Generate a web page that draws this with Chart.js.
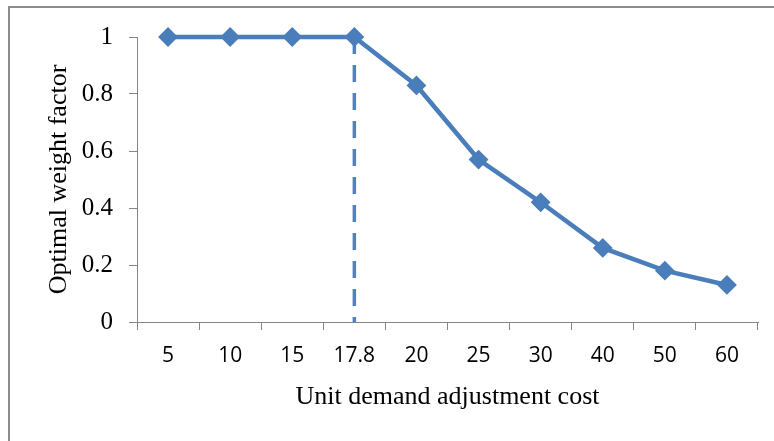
<!DOCTYPE html>
<html>
<head>
<meta charset="utf-8">
<script src="https://cdn.jsdelivr.net/npm/chart.js@4/dist/chart.umd.min.js"></script>
<style>
  html, body { margin: 0; padding: 0; background: #ffffff; }
  #wrap { position: relative; width: 774px; height: 441px; overflow: hidden; }
  #frame {
    position: absolute; left: 8px; top: 6px; width: 780px; height: 450px;
    border-left: 2px solid #8c8c8c; border-top: 2px solid #8c8c8c;
    pointer-events: none;
  }
  canvas { display: block; }
</style>
</head>
<body>
<div id="wrap">
  <canvas id="chart" width="774" height="441"></canvas>
  <div id="frame"></div>
</div>
<script>
// Unit demand adjustment cost categories and the optimal weight factor at each
const categories = ['5', '10', '15', '17.8', '20', '25', '30', '40', '50', '60'];
const weightFactor = [1, 1, 1, 1, 0.83, 0.57, 0.42, 0.26, 0.18, 0.13];
// Cost at which the weight factor starts to fall below 1
const thresholdCost = '17.8';
const yMin = 0;
const yMax = 1;
const yStep = 0.2;

const thresholdValue = weightFactor[categories.indexOf(thresholdCost)];
const thresholdLine = [
  { x: thresholdCost, y: thresholdValue },
  { x: thresholdCost, y: yMin }
];

const blue = '#4a7ebb';
const axisGray = '#868686';
const serif = "'Liberation Serif', 'Times New Roman', serif";
const sans = "'Open Sans', 'Liberation Sans', sans-serif";

new Chart(document.getElementById('chart'), {
  type: 'line',
  data: {
    labels: categories,
    datasets: [
      {
        label: 'Optimal weight factor',
        data: weightFactor,
        clip: false,
        borderColor: blue,
        backgroundColor: blue,
        borderWidth: 4.5,
        pointStyle: 'rectRot',
        pointRadius: 8.5,
        pointBorderWidth: 2,
        pointBackgroundColor: blue,
        pointBorderColor: blue,
        tension: 0,
        fill: false
      },
      {
        label: 'Threshold',
        data: thresholdLine,
        borderColor: '#4f82c0',
        borderWidth: 3.5,
        borderDash: [17, 11],
        pointRadius: 0,
        fill: false
      }
    ]
  },
  options: {
    responsive: false,
    animation: false,
    devicePixelRatio: 1,
    layout: { padding: { top: 37, right: 16, bottom: 0, left: 0 } },
    plugins: {
      legend: { display: false },
      tooltip: { enabled: false }
    },
    scales: {
      x: {
        type: 'category',
        offset: true,
        afterFit: (scale) => { scale.height = 119; },
        grid: {
          offset: true,
          drawOnChartArea: false,
          drawTicks: true,
          tickLength: 8,
          color: axisGray
        },
        border: { color: axisGray, width: 1 },
        ticks: {
          color: '#000000',
          padding: 13,
          maxRotation: 0,
          autoSkip: false,
          font: { family: sans, size: 21 }
        },
        title: {
          display: true,
          text: 'Unit demand adjustment cost',
          color: '#000000',
          font: { family: serif, size: 26 },
          padding: { top: 0, bottom: 28 }
        }
      },
      y: {
        min: yMin,
        max: yMax,
        afterFit: (scale) => { scale.width = 137; },
        grid: {
          drawOnChartArea: false,
          drawTicks: true,
          tickLength: 8,
          color: axisGray
        },
        border: { color: axisGray, width: 1 },
        ticks: {
          stepSize: yStep,
          color: '#000000',
          padding: 16,
          font: { family: serif, size: 25 },
          callback: (value) => String(Number(value.toFixed(2)))
        },
        title: {
          display: true,
          text: 'Optimal weight factor',
          color: '#000000',
          font: { family: serif, size: 26 },
          padding: { top: 44, bottom: 0 }
        }
      }
    }
  }
});
</script>
</body>
</html>
